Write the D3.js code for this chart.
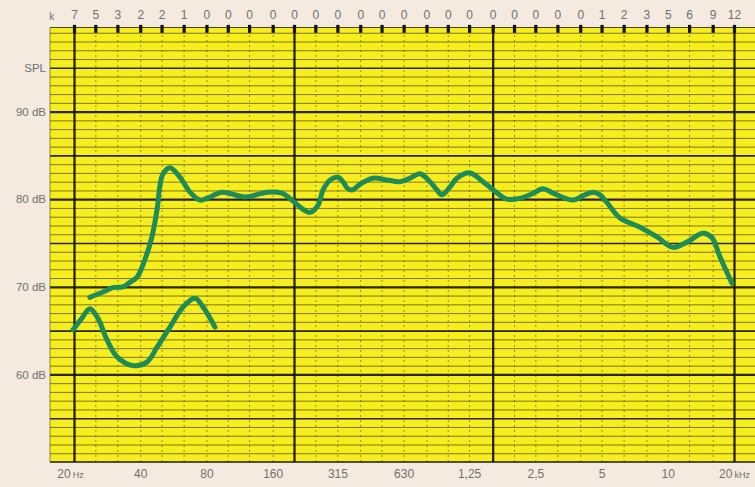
<!DOCTYPE html>
<html>
<head>
<meta charset="utf-8">
<script src="https://cdn.jsdelivr.net/npm/d3@7"></script>
<style>
  html, body { margin: 0; padding: 0; background: #f4eadf; }
  svg { display: block; }
  text { font-family: "Liberation Sans", Arial, sans-serif; }
</style>
</head>
<body>
<svg id="chart" width="755" height="487"></svg>
<script>
// ---------- DATA ----------
// third-octave frequencies (Hz) across the top row
const thirdOctaves = [20,25,31.5,40,50,63,80,100,125,160,200,250,315,400,500,630,800,1000,1250,1600,2000,2500,3150,4000,5000,6300,8000,10000,12500,16000,20000];
// distortion values (k, %) printed above each third-octave tick
const distortion = [7,5,3,2,2,1,0,0,0,0,0,0,0,0,0,0,0,0,0,0,0,0,0,0,1,2,3,5,6,9,12];
// bottom axis labels
const octaveFreqs = [20,40,80,160,315,630,1250,2500,5000,10000,20000];
const octaveLabels = ["20|Hz","40","80","160","315","630","1,25","2,5","5","10","20|kHz"];
// left axis labels
const dbTicks = [60,70,80,90,95];
const dbLabels = ["60 dB","70 dB","80 dB","90 dB","SPL"];
// heavy vertical rule positions (Hz)
const heavyFreqs = [20,200,1600,20000];

// main response curve: frequency (Hz) and SPL (dB)
const mainFreq = [23.6,27.1,30.1,33.4,35.9,38.7,42.0,45.2,47.7,49.2,50.8,54.6,60.7,67.4,74.8,83.0,94.1,120,151,176,198,213,236,257,271,292,317,338,348,367,399,457,529,607,674,748,830,893,941,1024,1101,1262,1446,1639,1859,2130,2414,2710,3008,3710,4118,4573,4921,5296,6066,7480,8934,10562,12230,14462,15886,17278,19586];
const mainSPL  = [68.8,69.4,69.9,70.0,70.5,71.1,73.1,75.7,78.8,81.6,82.9,83.6,82.5,80.8,79.9,80.25,80.8,80.25,80.8,80.7,79.8,79.1,78.5,79.3,81.05,82.2,82.5,81.8,81.3,81.05,81.7,82.4,82.2,82.0,82.4,82.9,82.0,81.05,80.5,81.4,82.4,83.0,82.0,80.9,80.0,80.1,80.6,81.2,80.7,79.9,80.4,80.8,80.5,79.6,77.85,76.8,75.7,74.5,75.1,76.1,75.6,73.4,70.4];

// low-frequency (near-field) curve
const lowFreq = [19.8,21.7,23.6,25.7,28.3,31.4,37.1,42.9,47.7,54.6,62.6,71.0,77.2,87.5];
const lowSPL  = [65.1,66.4,67.5,66.4,63.9,62.0,61.0,61.4,63.1,65.4,67.7,68.7,67.7,65.4];

// ---------- LAYOUT ----------
const W = 755, H = 487;
const plotLeft = 50, plotRight = 755, plotBottom = 462;
const svg = d3.select("#chart");

const x = d3.scaleLog().domain([20, 20000]).range([74, 734]);
const y = d3.scaleLinear().domain([50, 100]).range([plotBottom, 24]);
const plotTop = y(99.6);

const labelColor = "#707070";
const gridDark = "#1e1a05";

// background
svg.append("rect").attr("x", 0).attr("y", 0).attr("width", W).attr("height", H).attr("fill", "#f4eadf");
svg.append("rect")
  .attr("x", plotLeft).attr("y", plotTop)
  .attr("width", plotRight - plotLeft).attr("height", plotBottom - plotTop)
  .attr("fill", "#f7ee1f");

// vertical third-octave dotted grid
const vGrid = svg.append("g").attr("transform", `translate(0,${plotBottom})`)
  .call(d3.axisBottom(x).tickValues(thirdOctaves).tickSize(-(plotBottom - plotTop)).tickFormat(""));
vGrid.select(".domain").remove();
vGrid.selectAll("line").attr("stroke", "#4a4200").attr("stroke-opacity", 0.55)
  .attr("stroke-width", 1).attr("stroke-dasharray", "2,3");

// horizontal dB grid
const hGrid = svg.append("g").attr("transform", `translate(${plotLeft},0)`)
  .call(d3.axisLeft(y).tickValues(d3.range(51, 100)).tickSize(-(plotRight - plotLeft)).tickFormat(""));
hGrid.select(".domain").remove();
hGrid.selectAll(".tick line")
  .attr("stroke", gridDark)
  .attr("stroke-width", d => d % 10 === 0 ? 2.2 : (d % 5 === 0 ? 1.6 : 0.8))
  .attr("stroke-opacity", d => d % 5 === 0 ? 0.95 : 0.7);

// heavy vertical rules
const hv = svg.append("g").attr("transform", `translate(0,${plotBottom})`)
  .call(d3.axisBottom(x).tickValues(heavyFreqs).tickSize(-(plotBottom - y(99.9))).tickFormat(""));
hv.select(".domain").remove();
hv.selectAll("line").attr("stroke", gridDark).attr("stroke-width", 2.2);

// plot border (top, left, bottom)
svg.append("line").attr("x1", plotLeft).attr("x2", plotRight).attr("y1", plotTop).attr("y2", plotTop)
  .attr("stroke", gridDark).attr("stroke-width", 1.2).attr("stroke-opacity", 0.8);
svg.append("line").attr("x1", plotLeft).attr("x2", plotRight).attr("y1", plotBottom).attr("y2", plotBottom)
  .attr("stroke", gridDark).attr("stroke-width", 1.6);
svg.append("line").attr("x1", plotLeft).attr("x2", plotLeft).attr("y1", plotTop).attr("y2", plotBottom)
  .attr("stroke", "#6a6010").attr("stroke-width", 1).attr("stroke-opacity", 0.7);

// top axis: distortion values with tick marks
const topAxis = svg.append("g").attr("transform", `translate(0,${y(99.9)})`)
  .call(d3.axisTop(x).tickValues(thirdOctaves).tickSize(-8).tickPadding(6)
    .tickFormat((d, i) => distortion[i]));
topAxis.select(".domain").remove();
topAxis.selectAll(".tick line").attr("stroke", "#111").attr("stroke-width", 3.2);
topAxis.selectAll(".tick text").attr("fill", labelColor).attr("font-size", 12);
svg.append("text").attr("x", x(15.85)).attr("y", 20).attr("text-anchor", "middle")
  .attr("fill", labelColor).attr("font-size", 10).text("k");

// left axis
const leftAxis = svg.append("g").attr("transform", `translate(${plotLeft},0)`)
  .call(d3.axisLeft(y).tickValues(dbTicks).tickSize(0).tickPadding(4)
    .tickFormat((d, i) => dbLabels[i]));
leftAxis.select(".domain").remove();
leftAxis.selectAll(".tick text").attr("fill", labelColor).attr("font-size", 11.5);

// bottom axis
const bottomAxis = svg.append("g").attr("transform", `translate(0,${plotBottom})`)
  .call(d3.axisBottom(x).tickValues(octaveFreqs).tickSize(0).tickPadding(7)
    .tickFormat((d, i) => octaveLabels[i]));
bottomAxis.select(".domain").remove();
bottomAxis.selectAll(".tick text")
  .attr("fill", labelColor).attr("font-size", 12)
  .each(function(d, i) {
    const parts = octaveLabels[i].split("|");
    const t = d3.select(this);
    t.text(null);
    t.append("tspan").text(parts[0]);
    if (parts[1]) t.append("tspan").attr("font-size", 9).attr("dx", 2).text(parts[1]);
    if (i === 0) t.attr("dx", -4);
  });

// curves
const line = d3.line().x(d => x(d[0])).y(d => y(d[1])).curve(d3.curveCatmullRom.alpha(0.5));
const curveColor = "#1d8b5a";
svg.append("path").datum(d3.zip(mainFreq, mainSPL)).attr("d", line)
  .attr("fill", "none").attr("stroke", curveColor).attr("stroke-width", 5)
  .attr("stroke-linecap", "round").attr("stroke-linejoin", "round");
svg.append("path").datum(d3.zip(lowFreq, lowSPL)).attr("d", line)
  .attr("fill", "none").attr("stroke", curveColor).attr("stroke-width", 5)
  .attr("stroke-linecap", "round").attr("stroke-linejoin", "round");
</script>
</body>
</html>
